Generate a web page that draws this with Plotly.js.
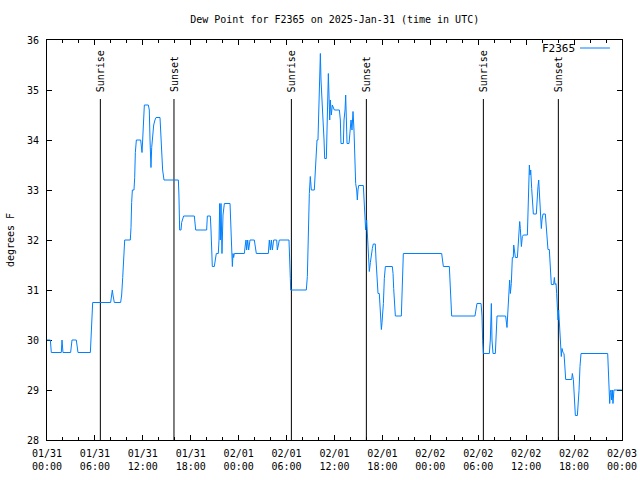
<!DOCTYPE html>
<html>
<head>
<meta charset="utf-8">
<script src="https://cdn.plot.ly/plotly-3.0.1.min.js"></script>
<style>html,body{margin:0;padding:0;background:#fff;}#chart{width:640px;height:480px;}</style>
</head>
<body>
<div id="chart"></div>
<script>
// Hours after 2025-01-31 00:00 UTC
const hoursSinceStart = [
0.00,0.42,0.54,1.79,1.88,2.00,2.96,3.13,3.67,3.88,5.43,5.51,5.59,5.72,7.97,8.10,8.18,8.26,8.43,9.22,
9.35,9.48,9.60,9.73,10.43,10.52,10.60,10.69,10.89,10.98,11.06,11.19,11.73,11.81,11.90,11.98,12.06,12.19,12.69,12.81,
12.90,13.02,13.11,13.23,13.36,13.52,13.65,14.15,14.28,14.36,14.48,14.65,16.45,16.52,16.55,16.61,16.78,16.86,17.11,18.45,
18.62,19.99,20.08,20.45,20.54,20.62,20.70,20.95,21.08,21.20,21.45,21.54,21.62,21.70,21.79,21.91,22.04,22.21,22.92,23.04,
23.12,23.21,23.29,23.37,23.46,24.71,24.83,24.92,25.00,25.13,25.25,25.42,25.96,26.09,26.21,27.71,27.84,27.97,28.09,28.22,
28.38,28.76,28.84,28.97,29.09,30.30,30.39,30.47,30.51,32.47,32.60,32.72,32.85,32.97,33.10,33.47,33.56,33.68,33.81,33.93,
34.02,34.14,34.23,34.31,34.44,34.56,34.69,34.77,34.98,35.06,35.15,35.23,35.31,35.40,35.48,35.60,35.73,35.98,36.61,36.73,
36.81,37.11,37.19,37.32,37.40,37.48,37.57,37.82,37.94,38.07,38.19,38.32,38.44,38.57,38.65,38.78,38.86,38.94,39.03,39.61,
39.69,39.78,39.90,40.03,40.11,40.24,40.36,40.49,40.61,40.74,40.86,41.11,41.20,41.32,41.45,41.61,41.70,41.82,41.87,41.95,
42.12,42.24,42.37,43.24,43.33,43.41,43.54,43.62,44.37,44.45,44.54,44.62,49.42,49.50,49.63,50.38,50.46,50.59,50.67,53.59,
53.72,53.84,54.35,54.47,54.55,54.64,55.39,55.51,55.60,55.64,55.72,55.85,56.14,56.22,56.35,57.43,57.52,57.60,57.68,57.81,
57.93,58.02,58.14,58.27,58.39,58.44,58.52,58.65,58.90,58.98,59.10,59.19,59.27,59.40,59.52,59.65,60.15,60.23,60.32,60.40,
60.48,60.57,60.69,60.82,60.90,61.27,61.36,61.48,61.57,61.65,61.73,61.82,61.90,61.98,62.11,62.40,62.48,62.61,62.73,62.90,
62.98,63.07,63.15,63.44,63.53,63.61,63.74,63.82,63.90,63.99,64.07,64.15,64.28,64.40,64.49,64.61,64.74,64.86,64.95,65.70,
65.78,65.91,66.03,66.16,66.41,66.49,66.62,66.74,66.87,70.21,70.29,70.37,70.46,70.54,70.62,70.71,70.79,70.87,70.99,71.12,
71.98
];
// Dew point, degrees F
const dewPointF = [
30.0,30.0,29.75,29.75,30.0,29.75,29.75,30.0,30.0,29.75,29.75,30.0,30.5,30.75,30.75,30.9,31.0,30.9,30.75,30.75,
30.9,31.25,31.75,32.0,32.0,32.25,32.75,33.0,33.0,33.25,33.75,34.0,34.0,33.8,33.75,34.0,34.45,34.7,34.7,34.6,
34.0,33.45,33.85,34.1,34.3,34.4,34.45,34.45,34.0,33.7,33.4,33.2,33.2,32.9,32.43,32.2,32.2,32.35,32.48,32.48,
32.2,32.2,32.48,32.48,32.2,31.73,31.47,31.47,31.62,31.73,31.73,32.0,32.73,32.0,32.73,31.73,32.5,32.73,32.73,32.1,
31.73,31.47,31.73,31.65,31.73,31.73,31.9,32.0,31.8,32.0,31.8,32.0,32.0,31.85,31.73,31.73,32.0,31.8,32.0,31.8,
32.0,32.0,31.8,31.9,32.0,32.0,31.73,31.23,31.0,31.0,31.27,32.33,32.93,33.27,33.0,33.0,33.27,33.73,34.0,34.0,
34.43,35.33,35.73,35.2,34.6,34.4,34.0,33.63,33.63,34.13,34.9,35.33,34.9,34.4,34.8,34.5,34.7,34.6,34.6,34.4,
33.93,33.93,34.4,34.6,34.9,34.4,33.93,33.93,34.2,34.4,34.2,34.57,34.2,33.53,33.13,33.0,32.8,33.0,33.09,33.09,
32.83,32.33,32.2,32.4,32.1,31.63,31.37,31.55,31.73,31.83,31.92,31.92,31.6,31.17,30.93,30.93,30.73,30.4,30.21,30.35,
30.73,31.23,31.47,31.47,31.33,31.03,30.67,30.48,30.48,30.8,31.4,31.73,31.73,31.63,31.47,31.47,31.23,30.73,30.48,30.48,
30.6,30.73,30.73,30.48,29.99,29.73,29.73,30.0,30.48,30.73,30.0,29.73,29.73,30.1,30.48,30.48,30.35,30.25,30.48,30.93,
31.2,30.93,31.13,31.65,31.65,31.9,31.8,31.65,31.65,31.83,32.2,32.37,32.23,31.87,32.07,32.1,32.1,32.43,33.17,33.5,
33.3,33.4,33.03,32.8,32.52,32.52,32.87,33.07,33.2,32.97,32.7,32.47,32.23,32.4,32.52,32.52,32.33,32.0,31.81,31.81,
31.63,31.28,31.11,31.11,31.25,31.11,31.13,30.93,30.67,30.4,30.6,30.4,29.93,29.67,29.83,29.75,29.73,29.4,29.21,29.21,
29.33,29.21,28.73,28.49,28.49,28.65,28.99,29.47,29.73,29.73,29.47,29.0,28.73,28.95,29.0,28.8,29.0,28.73,29.0,29.0,
29.0
];
const sunriseHours = [6.68, 30.60, 54.64];
const sunsetHours = [15.90, 39.99, 64.03];
const seriesName = 'F2365';
const chartTitle = 'Dew Point for F2365 on 2025-Jan-31 (time in UTC)';
const yTitle = 'degrees F';

const BASE = Date.UTC(2025, 0, 31);
function toDate(h) {
  return new Date(BASE + Math.round(h * 3600000)).toISOString().replace('T', ' ').slice(0, 19);
}
const xs = hoursSinceStart.map(toDate);

const FONT = 'DejaVu Sans Mono, monospace';
const lineColor = 'rgb(0,128,255)';
const shapes = [];
const annotations = [];
function sunMarker(h, label) {
  shapes.push({type: 'line', xref: 'x', yref: 'y', x0: toDate(h), x1: toDate(h), y0: 28, y1: 34.82,
    layer: 'below', line: {color: 'black', width: 1}});
  annotations.push({xref: 'x', yref: 'y', x: toDate(h), y: 34.82, text: label, textangle: -90,
    showarrow: false, xanchor: 'center', yanchor: 'bottom', yshift: 5,
    font: {family: FONT, size: 10, color: 'black'}});
}
sunriseHours.forEach(h => sunMarker(h, 'Sunrise'));
sunsetHours.forEach(h => sunMarker(h, 'Sunset'));

// legend (gnuplot style: label then sample)
annotations.push({xref: 'paper', yref: 'paper', x: 0.922, y: 0.98, text: seriesName, showarrow: false,
  xanchor: 'right', yanchor: 'middle', font: {family: FONT, size: 11, color: 'black'}});
shapes.push({type: 'line', xref: 'paper', yref: 'paper', x0: 0.927, x1: 0.979, y0: 0.98, y1: 0.98,
  line: {color: lineColor, width: 1}});

const trace = {x: xs, y: dewPointF, type: 'scatter', mode: 'lines', name: seriesName,
  line: {color: lineColor, width: 1}, showlegend: false};

const layout = {
  width: 640, height: 480,
  margin: {l: 47, r: 18, t: 40, b: 40},
  paper_bgcolor: 'white', plot_bgcolor: 'white',
  font: {family: FONT, size: 10, color: 'black'},
  title: {text: chartTitle, x: 0.523, xref: 'container', y: 1 - 19 / 480, yref: 'container',
    xanchor: 'center', yanchor: 'middle', font: {family: FONT, size: 10, color: 'black'}},
  xaxis: {type: 'date', range: ['2025-01-31 00:00:00', '2025-02-03 00:00:00'], automargin: false,
    tick0: '2025-01-31 00:00:00', dtick: 6 * 3600000, tickformat: '%m/%d<br>%H:%M',
    ticks: 'inside', ticklen: 5, tickcolor: 'black', showline: true, linecolor: 'black', linewidth: 1,
    mirror: 'allticks', showgrid: false, zeroline: false, ticklabelstandoff: 4, layer: 'below traces',
    minor: {dtick: 2 * 3600000, ticks: 'inside', ticklen: 3, tickcolor: 'black', showgrid: false},
    tickfont: {family: FONT, size: 10, color: 'black'}},
  yaxis: {range: [28, 36], dtick: 1, ticks: 'inside', ticklen: 5, tickcolor: 'black', automargin: false,
    showline: true, linecolor: 'black', linewidth: 1, mirror: 'allticks', showgrid: false, zeroline: false,
    ticklabelstandoff: 5, layer: 'below traces',
    title: {text: yTitle, standoff: 10, font: {family: FONT, size: 10, color: 'black'}},
    tickfont: {family: FONT, size: 10, color: 'black'}},
  shapes: shapes,
  annotations: annotations,
  showlegend: false
};

Plotly.newPlot('chart', [trace], layout, {displayModeBar: false, staticPlot: true});
</script>
</body>
</html>
